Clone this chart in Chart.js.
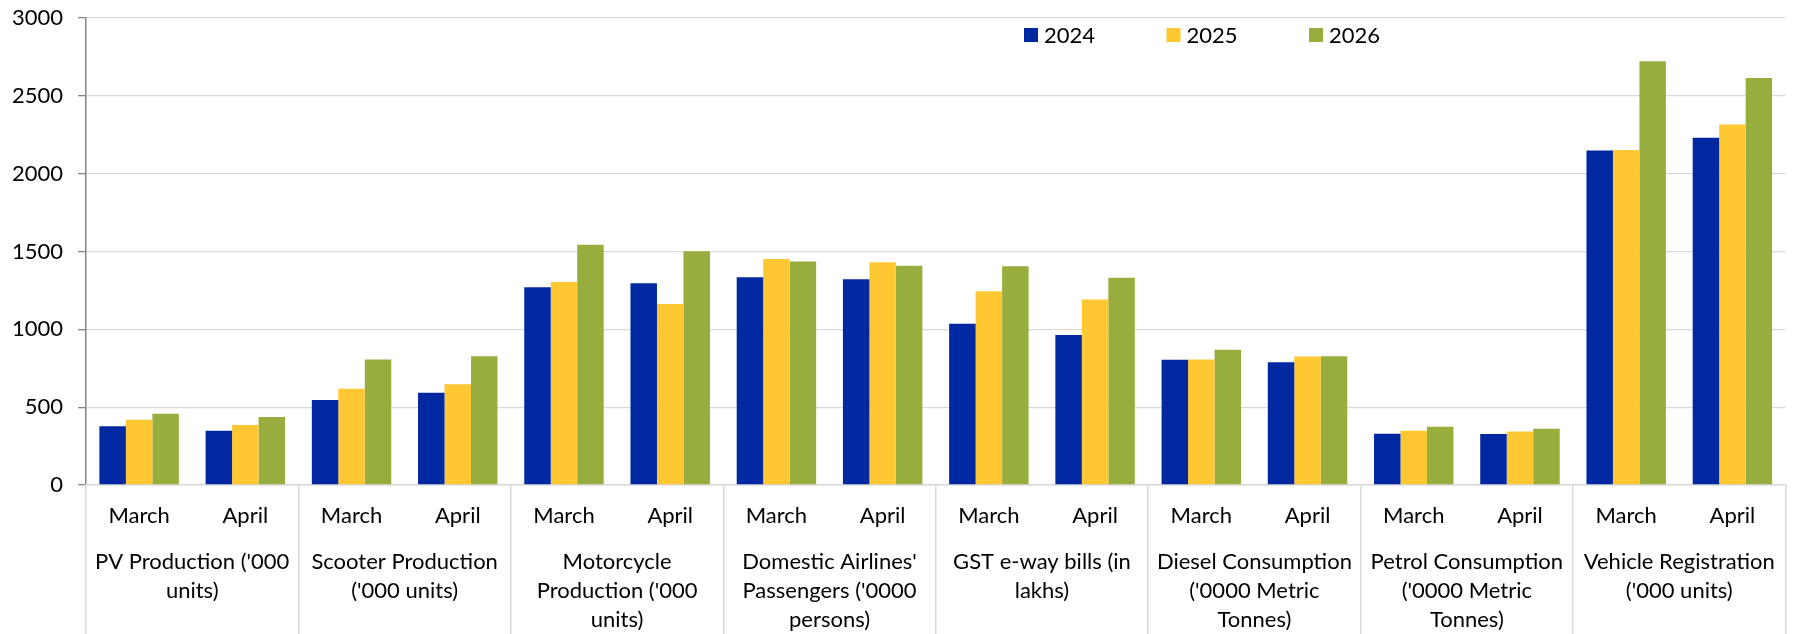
<!DOCTYPE html>
<html>
<head>
<meta charset="utf-8">
<script src="https://cdn.jsdelivr.net/npm/chart.js@4"></script>
<style>
  html, body { margin: 0; padding: 0; background: #fff; overflow: hidden; }
  #wrap { width: 1796px; height: 634px; position: relative; }
</style>
</head>
<body>
<div id="wrap"><canvas id="c"></canvas></div>
<script>
const months = ["March","April","March","April","March","April","March","April",
                "March","April","March","April","March","April","March","April"];
const groups = [
  ["PV Production ('000", "units)"],
  ["Scooter Production", "('000 units)"],
  ["Motorcycle", "Production ('000", "units)"],
  ["Domestic Airlines'", "Passengers ('0000", "persons)"],
  ["GST e-way bills (in", "lakhs)"],
  ["Diesel Consumption", "('0000 Metric", "Tonnes)"],
  ["Petrol Consumption", "('0000 Metric", "Tonnes)"],
  ["Vehicle Registration", "('000 units)"]
];
const seriesNames = ["2024", "2025", "2026"];
const values2024 = [377, 349, 546, 593, 1270, 1296, 1335, 1322, 1036, 963, 804, 788, 330, 328, 2149, 2230];
const values2025 = [419, 385, 619, 648, 1304, 1163, 1452, 1431, 1244, 1192, 807, 825, 349, 343, 2152, 2316];
const values2026 = [458, 437, 807, 827, 1543, 1501, 1436, 1408, 1405, 1332, 869, 827, 375, 362, 2722, 2615];
const colors = ["#0028A0", "#FFC832", "#97AD3E"];

const FONT = "Lato, 'Noto Sans', sans-serif";
const FS = 22;

const legendPlugin = {
  id: 'customLegend',
  afterDraw(chart) {
    const ctx = chart.ctx;
    const area = chart.chartArea;
    ctx.save();
    ctx.font = FS + "px " + FONT;
    ctx.textBaseline = 'middle';
    ctx.textAlign = 'left';
    const startX = area.left + 938;
    const step = 142.5;
    const y = 35;
    chart.data.datasets.forEach((ds, i) => {
      const x = startX + i * step;
      ctx.fillStyle = ds.backgroundColor;
      ctx.fillRect(x, y - 7, 14, 14);
      ctx.fillStyle = '#000';
      ctx.fillText(ds.label, x + 20, y + 1);
    });
    ctx.restore();
  }
};

new Chart(document.getElementById('c'), {
  type: 'bar',
  data: {
    labels: months,
    datasets: [
      { label: seriesNames[0], data: values2024, backgroundColor: colors[0] },
      { label: seriesNames[1], data: values2025, backgroundColor: colors[1] },
      { label: seriesNames[2], data: values2026, backgroundColor: colors[2] }
    ]
  },
  options: {
    responsive: true,
    maintainAspectRatio: false,
    devicePixelRatio: 1,
    animation: false,
    layout: { padding: { top: 18, left: 0, right: 0, bottom: 0 } },
    datasets: { bar: { categoryPercentage: 0.748, barPercentage: 1.0 } },
    plugins: {
      legend: { display: false },
      tooltip: { enabled: false }
    },
    scales: {
      y: {
        min: 0, max: 3000,
        ticks: { stepSize: 500, color: '#000', font: { family: FONT, size: FS }, padding: 15,
                 callback: (v) => String(v) },
        grid: { color: '#D9D9D9', tickColor: '#868686', tickLength: 8, lineWidth: 1.3 },
        border: { color: '#868686', width: 1.5 },
        afterFit(scale) { scale.width = 86; scale.paddingTop = 12; scale.paddingBottom = 12; }
      },
      x: {
        type: 'category',
        offset: true,
        weight: 0,
        ticks: { color: '#000', font: { family: FONT, size: FS, lineHeight: 1.2 }, padding: -132, maxRotation: 0, autoSkip: false },
        grid: {
          offset: true,
          drawOnChartArea: false,
          tickLength: 150,
          lineWidth: 1.5,
          color: (c) => (c.index === undefined || c.index % 2 === 0) ? '#D9D9D9' : 'rgba(0,0,0,0)',
          tickColor: (c) => (c.index === undefined || c.index % 2 === 0) ? '#D9D9D9' : 'rgba(0,0,0,0)'
        },
        border: { color: '#D9D9D9', width: 1.5 },
        afterFit(scale) { scale.height = 42; }
      },
      x2: {
        type: 'category',
        position: 'bottom',
        labels: groups,
        offset: true,
        weight: 1,
        ticks: { color: '#000', font: { family: FONT, size: FS, lineHeight: 1.32 }, padding: 20.5, maxRotation: 0, autoSkip: false },
        grid: { display: false, drawTicks: false },
        border: { display: false },
        afterFit(scale) { scale.height = 107; }
      }
    }
  },
  plugins: [legendPlugin]
});
</script>
</body>
</html>
